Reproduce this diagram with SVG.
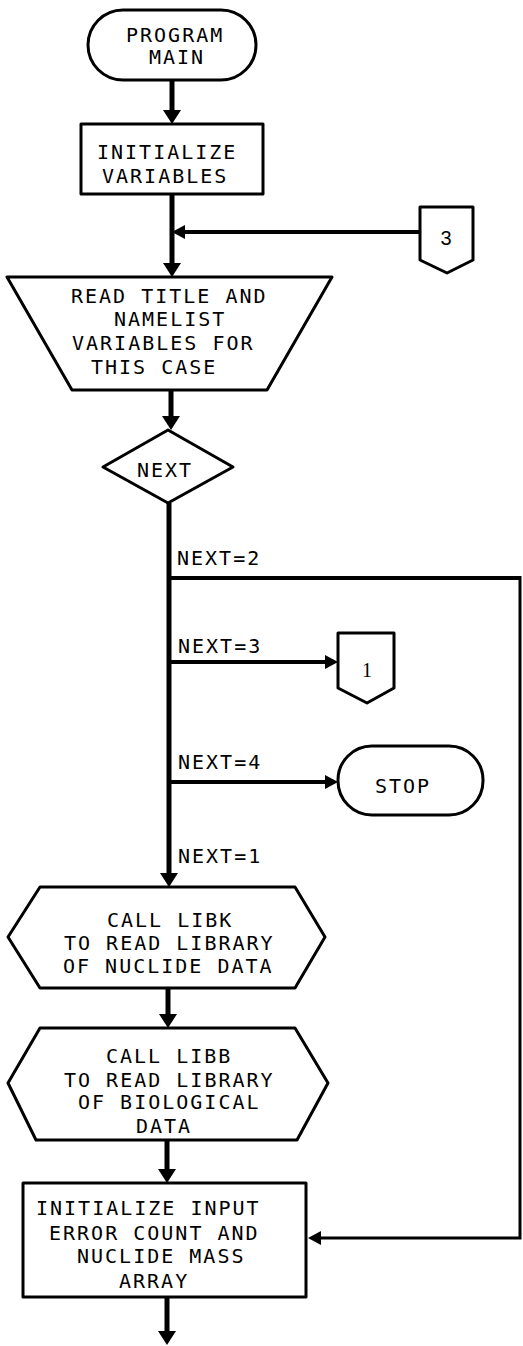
<svg xmlns="http://www.w3.org/2000/svg" width="523" height="1346" viewBox="0 0 523 1346">
<style>
.s{fill:#fff;stroke:#000;stroke-width:3;stroke-linejoin:round}
.t{font-family:"DejaVu Sans Mono","Liberation Mono",monospace;font-size:20px;letter-spacing:2px;fill:#000}
.c{fill:none;stroke:#000;stroke-width:5}
.h{fill:none;stroke:#000;stroke-width:4}
</style>
<defs>
<marker id="av" markerUnits="userSpaceOnUse" markerWidth="16" markerHeight="20" refX="0" refY="9" orient="auto" overflow="visible">
<path d="M0,0 L14,9 L0,18 Z" fill="#000"/>
</marker>
<marker id="as" markerUnits="userSpaceOnUse" markerWidth="14" markerHeight="16" refX="0" refY="7" orient="auto" overflow="visible">
<path d="M0,0 L13,7 L0,14 Z" fill="#000"/>
</marker>
</defs>
<rect width="523" height="1346" fill="#fff"/>
<g id="connectors">
<path class="c" d="M172,80 V110" marker-end="url(#av)"/>
<path class="c" d="M172,194 V263" marker-end="url(#av)"/>
<path class="h" d="M420,232 H185" marker-end="url(#as)"/>
<path class="c" d="M171,390 V416" marker-end="url(#av)"/>
<path class="c" d="M169,503 V873" marker-end="url(#av)"/>
<path class="h" d="M169,578 H520"/>
<path fill="none" stroke="#000" stroke-width="3" d="M520,576 V1238 H321" marker-end="url(#as)"/>
<path class="h" d="M169,662 H325" marker-end="url(#as)"/>
<path class="h" d="M169,782 H325" marker-end="url(#as)"/>
<path class="c" d="M168,988 V1014" marker-end="url(#av)"/>
<path class="c" d="M167,1140 V1169" marker-end="url(#av)"/>
<path class="c" d="M167,1297 V1331" marker-end="url(#av)"/>
</g>
<g id="start">
<rect class="s" x="88" y="10" width="168" height="70" rx="35"/>
<text class="t" x="126" y="42">PROGRAM</text>
<text class="t" x="149" y="64">MAIN</text>
</g>
<g id="init">
<rect class="s" x="81" y="124" width="182" height="70"/>
<text class="t" x="97" y="159">INITIALIZE</text>
<text class="t" x="102" y="183">VARIABLES</text>
</g>
<g id="conn3">
<path class="s" d="M420,207 H473 V260 L447,273 L420,260 Z"/>
<text x="446" y="245" text-anchor="middle" font-family="Liberation Sans,Arial,sans-serif" font-size="20">3</text>
</g>
<g id="read">
<path class="s" d="M7,277 H332 L267,390 H72 Z"/>
<text class="t" x="71" y="303">READ TITLE AND</text>
<text class="t" x="114" y="326">NAMELIST</text>
<text class="t" x="72" y="350">VARIABLES FOR</text>
<text class="t" x="91" y="374">THIS CASE</text>
</g>
<g id="next">
<path class="s" d="M103,467 L168,430 L233,467 L168,503 Z"/>
<text class="t" x="137" y="477">NEXT</text>
</g>
<g id="labels">
<text class="t" x="177" y="565">NEXT=2</text>
<text class="t" x="178" y="653">NEXT=3</text>
<text class="t" x="178" y="769">NEXT=4</text>
<text class="t" x="178" y="863">NEXT=1</text>
</g>
<g id="conn1">
<path class="s" d="M338,633 H394 V688 L367,703 L338,688 Z"/>
<text x="367" y="677" text-anchor="middle" font-family="Liberation Serif,Times New Roman,serif" font-size="20">1</text>
</g>
<g id="stop">
<rect class="s" x="338" y="746" width="145" height="69" rx="34"/>
<text class="t" x="375" y="793">STOP</text>
</g>
<g id="libk">
<path class="s" d="M40,887 H295 L325,937 L295,988 H40 L8,937 Z"/>
<text class="t" x="107" y="927">CALL LIBK</text>
<text class="t" x="64" y="950">TO READ LIBRARY</text>
<text class="t" x="63" y="973">OF NUCLIDE DATA</text>
</g>
<g id="libb">
<path class="s" d="M40,1028 H295 L328,1083 L297,1140 H36 L8,1083 Z"/>
<text class="t" x="106" y="1063">CALL LIBB</text>
<text class="t" x="64" y="1087">TO READ LIBRARY</text>
<text class="t" x="78" y="1109">OF BIOLOGICAL</text>
<text class="t" x="136" y="1133">DATA</text>
</g>
<g id="initerr">
<rect class="s" x="23" y="1183" width="283" height="114"/>
<text class="t" x="36" y="1215">INITIALIZE INPUT</text>
<text class="t" x="49" y="1240">ERROR COUNT AND</text>
<text class="t" x="77" y="1263">NUCLIDE MASS</text>
<text class="t" x="119" y="1288">ARRAY</text>
</g>
</svg>
